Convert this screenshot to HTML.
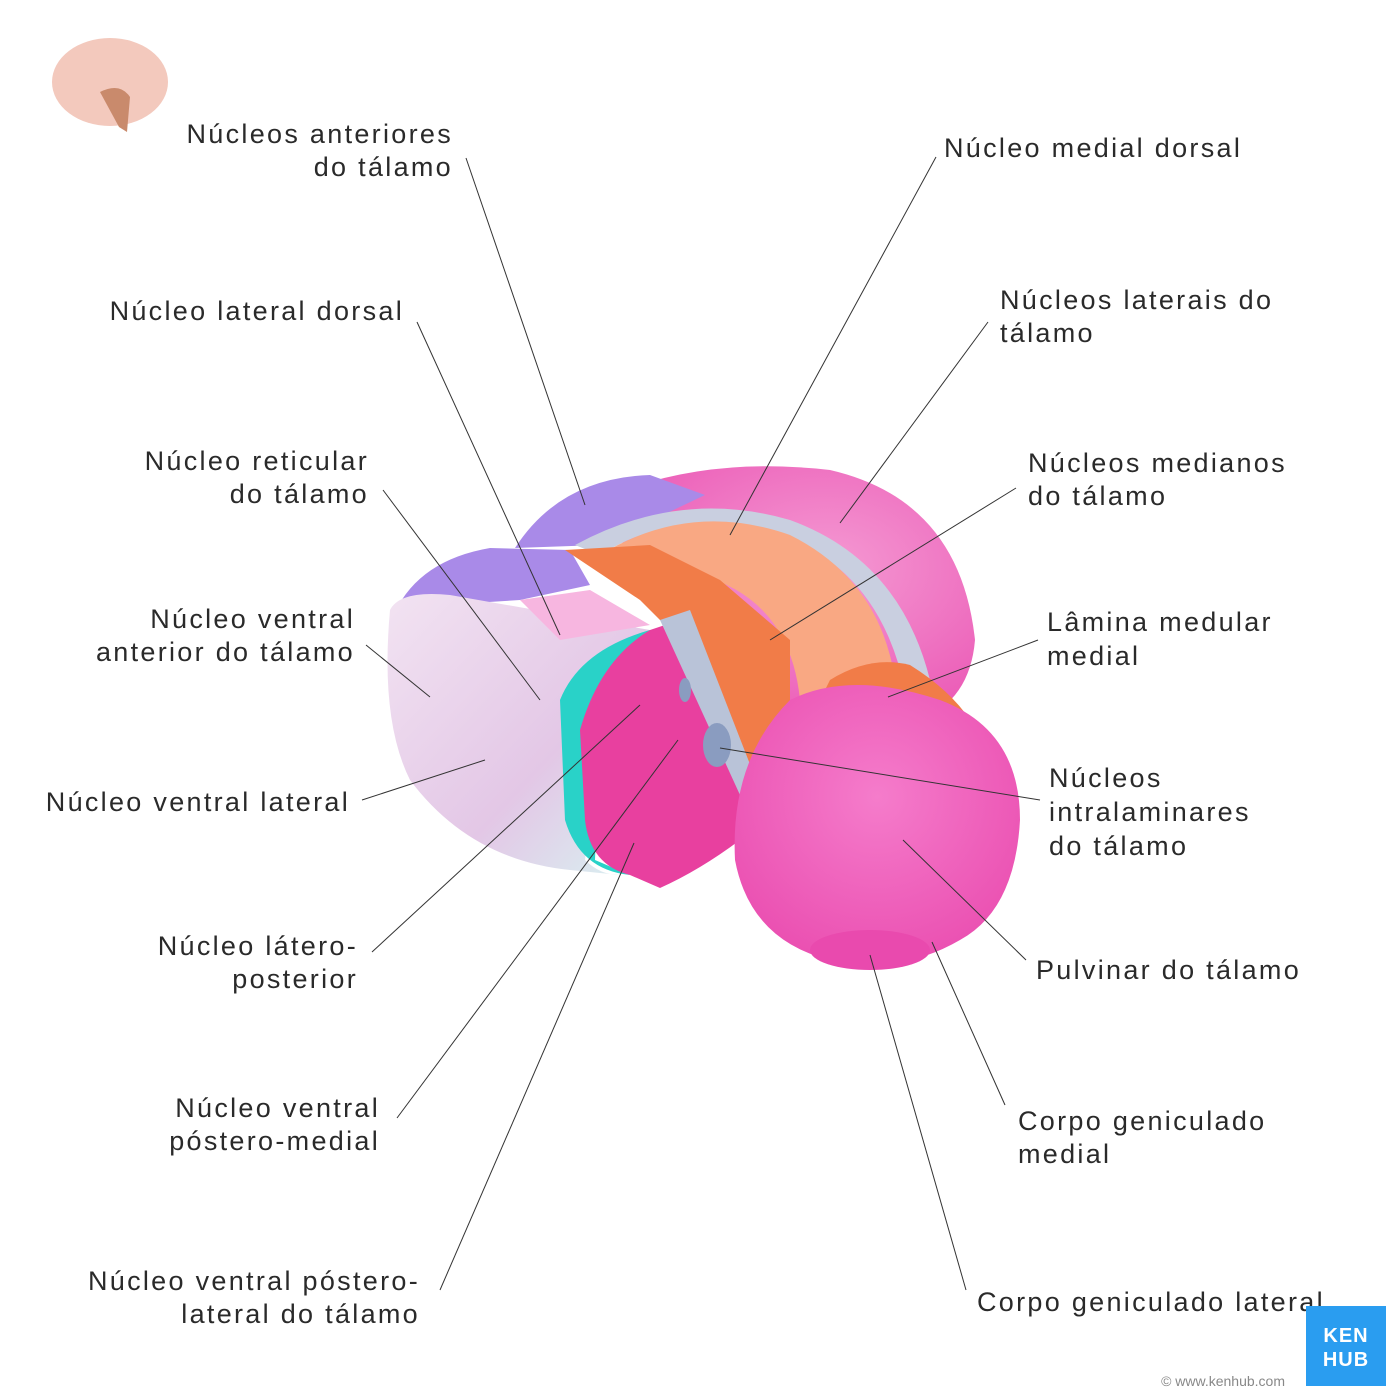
<!DOCTYPE html>
<html><head><meta charset="utf-8"><style>
html,body{margin:0;padding:0;background:#fff;}
svg{display:block;}
text{font-family:"Liberation Sans",sans-serif;font-size:27px;fill:#2a2a2a;letter-spacing:2.3px;}
.r{text-anchor:end;}
line{stroke:#333;stroke-width:1;}
</style></head><body>
<svg width="1400" height="1400" viewBox="0 0 1400 1400" xmlns="http://www.w3.org/2000/svg">
<defs>
<linearGradient id="lav" x1="0" y1="0" x2="1" y2="1"><stop offset="0" stop-color="#f2e3f2"/><stop offset="0.6" stop-color="#e3c7e6"/><stop offset="1" stop-color="#d8f4f2"/></linearGradient>
<radialGradient id="pk" cx="0.6" cy="0.4" r="0.7"><stop offset="0" stop-color="#f59ad3"/><stop offset="1" stop-color="#ea55b4"/></radialGradient>
<radialGradient id="pk2" cx="0.5" cy="0.4" r="0.7"><stop offset="0" stop-color="#f57ccb"/><stop offset="1" stop-color="#e94aae"/></radialGradient>
</defs>
<rect width="1400" height="1400" fill="#fff"/>
<ellipse cx="110" cy="82" rx="58" ry="44" fill="#f3c9bd"/>
<path d="M100 92 q20 -10 30 5 l-3 35 l-8 -5 z" fill="#c98a6c"/>
<path d="M600 500 Q700 455 830 470 Q960 500 975 640 Q970 700 920 720 L700 690 Z" fill="url(#pk)"/>
<path d="M515 548 Q560 478 650 475 L705 495 L600 545 Z" fill="#a98ae8"/>
<path d="M395 612 Q420 560 490 548 L570 550 L590 585 L520 600 L440 605 Z" fill="#a98ae8"/>
<path d="M575 545 Q680 488 790 520 Q900 560 930 680 L905 690 Q880 570 780 535 Q680 505 600 555 Z" fill="#c9cfe0"/>
<path d="M600 555 Q690 500 790 535 Q880 580 895 680 L800 700 Q790 600 700 575 Z" fill="#f9a883"/>
<path d="M565 550 L650 545 L720 580 L790 640 L790 780 L745 775 L690 650 L640 600 Z" fill="#f17c48"/>
<path d="M390 610 Q400 590 450 595 L650 630 L600 720 L585 860 Q600 875 620 875 L570 870 Q470 860 410 780 Q380 720 390 610 Z" fill="url(#lav)"/>
<path d="M560 700 Q580 650 650 630 L600 720 L595 860 L630 875 Q580 870 565 820 Z" fill="#29d2c8"/>
<path d="M520 600 L590 590 L650 625 L560 640 Z" fill="#f7b6e0"/>
<path d="M650 630 L680 620 L745 790 L740 840 Q700 870 660 888 L630 875 Q590 865 585 820 L580 730 Q600 660 650 630 Z" fill="#e8409f"/>
<path d="M660 620 L690 610 L760 790 L740 795 Z" fill="#b9c3d8"/>
<ellipse cx="685" cy="690" rx="6" ry="12" fill="#8a9cc0"/>
<ellipse cx="717" cy="745" rx="14" ry="22" fill="#8a9cc0"/>
<path d="M830 680 Q870 655 910 665 Q950 690 970 720 L820 700 Z" fill="#f17c48"/>
<path d="M790 700 Q850 670 940 700 Q1020 730 1020 820 Q1015 910 960 940 Q900 975 830 960 Q750 940 735 860 Q730 760 790 700 Z" fill="url(#pk2)"/>
<ellipse cx="870" cy="950" rx="60" ry="20" fill="#e94aae"/>
<line x1="466" y1="158" x2="585" y2="505"/>
<line x1="417" y1="322" x2="560" y2="635"/>
<line x1="383" y1="490" x2="540" y2="700"/>
<line x1="366" y1="645" x2="430" y2="697"/>
<line x1="362" y1="800" x2="485" y2="760"/>
<line x1="372" y1="952" x2="640" y2="705"/>
<line x1="397" y1="1118" x2="678" y2="740"/>
<line x1="440" y1="1290" x2="634" y2="843"/>
<line x1="936" y1="157" x2="730" y2="535"/>
<line x1="988" y1="322" x2="840" y2="523"/>
<line x1="1016" y1="488" x2="770" y2="640"/>
<line x1="1038" y1="640" x2="888" y2="697"/>
<line x1="1040" y1="800" x2="720" y2="748"/>
<line x1="1026" y1="960" x2="903" y2="840"/>
<line x1="1005" y1="1105" x2="932" y2="942"/>
<line x1="966" y1="1290" x2="870" y2="955"/>
<text class="r" x="453" y="143">Núcleos anteriores</text>
<text class="r" x="453" y="176">do tálamo</text>
<text class="r" x="404" y="320">Núcleo lateral dorsal</text>
<text class="r" x="369" y="470">Núcleo reticular</text>
<text class="r" x="369" y="503">do tálamo</text>
<text class="r" x="355" y="628">Núcleo ventral</text>
<text class="r" x="355" y="661">anterior do tálamo</text>
<text class="r" x="350" y="811">Núcleo ventral lateral</text>
<text class="r" x="358" y="955">Núcleo látero-</text>
<text class="r" x="358" y="988">posterior</text>
<text class="r" x="380" y="1117">Núcleo ventral</text>
<text class="r" x="380" y="1150">póstero-medial</text>
<text class="r" x="420" y="1290">Núcleo ventral póstero-</text>
<text class="r" x="420" y="1323">lateral do tálamo</text>
<text x="944" y="157">Núcleo medial dorsal</text>
<text x="1000" y="309">Núcleos laterais do</text>
<text x="1000" y="342">tálamo</text>
<text x="1028" y="472">Núcleos medianos</text>
<text x="1028" y="505">do tálamo</text>
<text x="1047" y="631">Lâmina medular</text>
<text x="1047" y="665">medial</text>
<text x="1049" y="787">Núcleos</text>
<text x="1049" y="821">intralaminares</text>
<text x="1049" y="855">do tálamo</text>
<text x="1036" y="979">Pulvinar do tálamo</text>
<text x="1018" y="1130">Corpo geniculado</text>
<text x="1018" y="1163">medial</text>
<text x="977" y="1311">Corpo geniculado lateral</text>
<rect x="1306" y="1306" width="80" height="80" fill="#2a9df0"/>
<text x="1346" y="1342" style="font-size:20px;fill:#fff;font-weight:bold;text-anchor:middle;letter-spacing:1px;">KEN</text>
<text x="1346" y="1366" style="font-size:20px;fill:#fff;font-weight:bold;text-anchor:middle;letter-spacing:1px;">HUB</text>
<text x="1285" y="1386" style="font-size:14px;fill:#888;text-anchor:end;letter-spacing:0;">© www.kenhub.com</text>
</svg>
</body></html>
